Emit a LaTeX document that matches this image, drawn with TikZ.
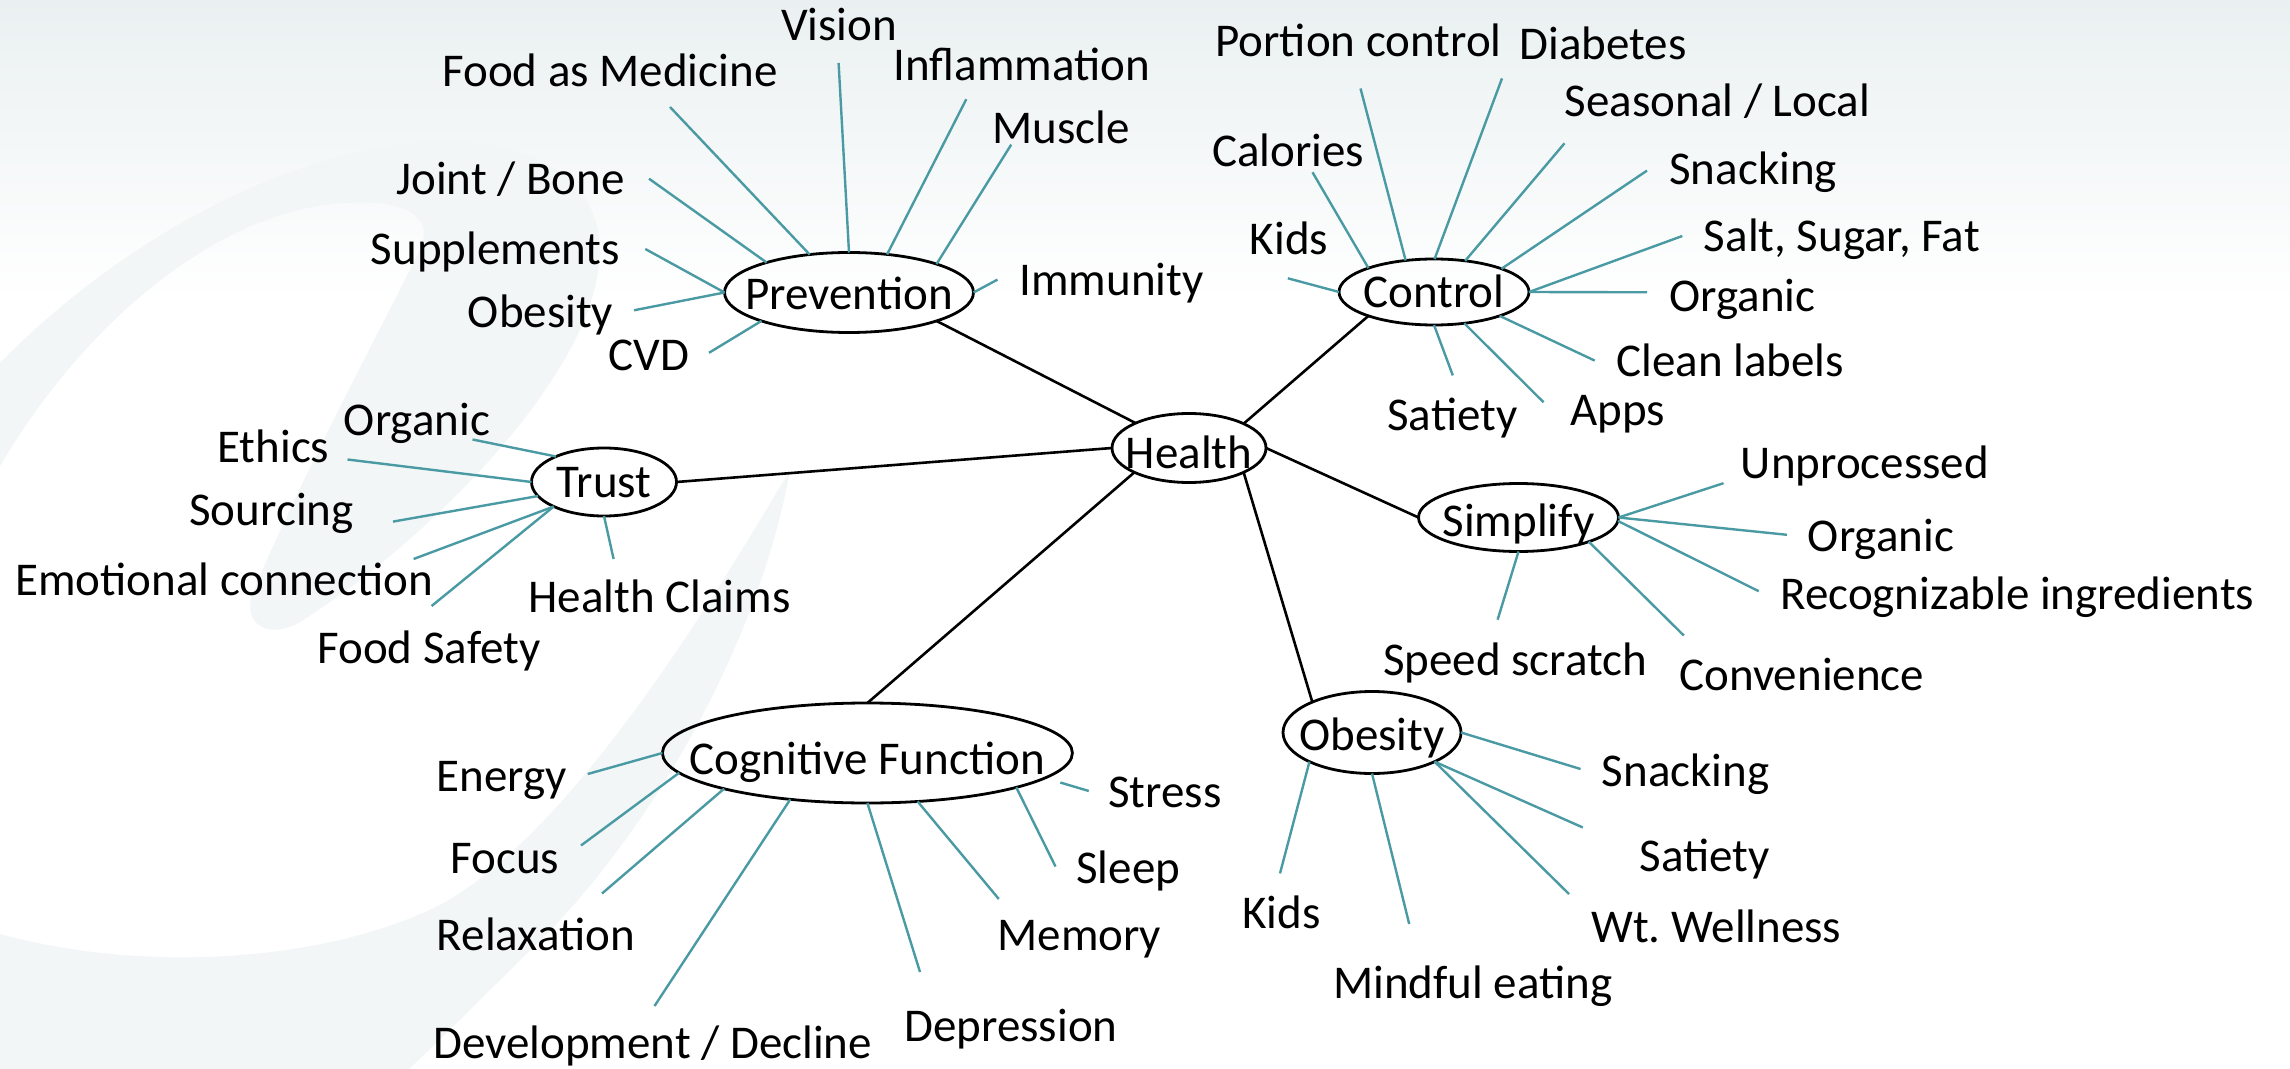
\documentclass[tikz,border=0pt]{standalone}
\usepackage{fontspec}
\setmainfont{Carlito}
\usetikzlibrary{shapes.geometric}
\definecolor{tealline}{RGB}{74,154,164}
\definecolor{ghost}{RGB}{242,246,247}
\definecolor{topg}{RGB}{234,240,241}
\newcommand\hubtext[2][9pt]{\smash{\makebox[0pt]{\raisebox{-#1}{#2}}}}
\frenchspacing
\begin{document}
\begin{tikzpicture}[x=0.5pt,y=-0.5pt,
  hub/.style={ellipse,draw=black,line width=1.4pt,inner sep=0pt,outer sep=0pt,font=\fontsize{23.5}{28}\selectfont},
  lbl/.style={anchor=base west,inner sep=0pt,font=\fontsize{23.5}{28}\selectfont},
  leaf/.style={draw=tealline,line width=1.2pt},
  trunk/.style={draw=black,line width=1.3pt}]
\useasboundingbox (0,0) rectangle (2290,1069);
% background
\fill[white] (0,0) rectangle (2290,1069);
\shade[top color=topg, bottom color=white] (0,0) rectangle (2290,300);
\fill[ghost] (0,363) .. controls (120,240) and (300,140) .. (450,142)
  .. controls (560,144) and (610,200) .. (598,270)
  .. controls (585,380) and (430,540) .. (300,622)
  .. controls (265,642) and (240,620) .. (254,590)
  .. controls (300,480) and (380,330) .. (420,250)
  .. controls (440,205) and (380,195) .. (312,207)
  .. controls (200,228) and (80,330) .. (0,466) -- cycle;
\fill[ghost] (0,934) .. controls (150,975) and (330,960) .. (440,905)
  .. controls (560,840) and (690,640) .. (790,470)
  .. controls (760,640) and (650,840) .. (520,960)
  .. controls (480,1000) and (440,1040) .. (409,1069) -- (0,1069) -- cycle;

% hubs
\node[hub,minimum width=77pt,minimum height=34.5pt] (health) at (1189,448) {\hubtext[10pt]{Health}};
\node[hub,minimum width=124.5pt,minimum height=40pt] (prev) at (849,292.5) {\hubtext[8.75pt]{Prevention}};
\node[hub,minimum width=72.5pt,minimum height=34pt] (trust) at (604,482) {\hubtext[7.5pt]{Trust}};
\node[hub,minimum width=95pt,minimum height=33pt] (ctrl) at (1434,292) {\hubtext[8pt]{Control}};
\node[hub,minimum width=100pt,minimum height=34pt] (simp) at (1518.5,517.5) {\hubtext[9.25pt]{Simplify}};
\node[hub,minimum width=89pt,minimum height=41pt] (obes) at (1372,732.5) {\hubtext[8.75pt]{Obesity}};
\node[hub,minimum width=205pt,minimum height=50pt] (cog) at (867.4,753) {\hubtext[10.5pt]{Cognitive Function}};

% trunks
\draw[trunk] (prev.-18.7) -- (health.155.3);
\draw[trunk] (trust.east) -- (health.west);
\draw[trunk] (ctrl.200.5) -- (health.24.3);
\draw[trunk] (health.east) -- (simp.west);
\draw[trunk] (health.-24.4) -- (obes.153.5);
\draw[trunk] (health.204.4) -- (cog.north);

% Prevention leaves
\coordinate (p1) at (670,107);     \draw[leaf] (prev.136.3) -- (p1);
\node[lbl] (p1t) at (442,87) {Food as Medicine};
\coordinate (p2) at (838.6,63);    \draw[leaf] (prev.90) -- (p2);
\node[lbl] (p2t) at (780.6,41) {Vision};
\coordinate (p3) at (966.3,99.2);  \draw[leaf] (prev.45.4) -- (p3);
\node[lbl] (p3t) at (893,81) {Inflammation};
\coordinate (p4) at (1011.2,144.6); \draw[leaf] (prev.18) -- (p4);
\node[lbl] (p4t) at (992,143.5) {Muscle};
\coordinate (p5) at (997.5,279.6); \draw[leaf] (prev.0) -- (p5);
\node[lbl] (p5t) at (1019,296) {Immunity};
\coordinate (p6) at (649,178.7);   \draw[leaf] (prev.160.7) -- (p6);
\node[lbl] (p6t) at (396,195) {Joint / Bone};
\coordinate (p7) at (645.3,249);   \draw[leaf] (prev.180) -- (p7);
\node[lbl] (p7t) at (370.5,265) {Supplements};
\coordinate (p8) at (634,310.3);   \draw[leaf] (prev.180) -- (p8);
\node[lbl] (p8t) at (467.5,328) {Obesity};
\coordinate (p9) at (709,352.8);   \draw[leaf] (prev.198.4) -- (p9);
\node[lbl] (p9t) at (608,371) {CVD};

% Trust leaves
\coordinate (t1) at (472.5,439.5); \draw[leaf] (trust.152.9) -- (t1);
\node[lbl] (t1t) at (343.5,436) {Organic};
\coordinate (t2) at (347.5,459.5); \draw[leaf] (trust.180) -- (t2);
\node[lbl] (t2t) at (217,462) {Ethics};
\coordinate (t3) at (393,521.6);   \draw[leaf] (trust.192.6) -- (t3);
\node[lbl] (t3t) at (189,525) {Sourcing};
\coordinate (t4) at (413.6,559);   \draw[leaf] (trust.206.6) -- (t4);
\node[lbl] (t4t) at (15,595) {Emotional connection};
\coordinate (t5) at (431.6,606);   \draw[leaf] (trust.206.6) -- (t5);
\node[lbl] (t5t) at (317,663) {Food Safety};
\coordinate (t6) at (613.6,559);   \draw[leaf] (trust.270) -- (t6);
\node[lbl] (t6t) at (528,612) {Health Claims};

% Control leaves
\coordinate (c1) at (1360.5,88.5);  \draw[leaf] (ctrl.132.9) -- (c1);
\node[lbl] (c1t) at (1215,57) {Portion control};
\coordinate (c2) at (1502,78.4);    \draw[leaf] (ctrl.89) -- (c2);
\node[lbl] (c2t) at (1519,60) {Diabetes};
\coordinate (c3) at (1564.5,143.3); \draw[leaf] (ctrl.45) -- (c3);
\node[lbl] (c3t) at (1564.5,117) {Seasonal / Local};
\coordinate (c4) at (1312.5,172.3); \draw[leaf] (ctrl.160.1) -- (c4);
\node[lbl] (c4t) at (1211.6,167) {Calories};
\coordinate (c5) at (1647,170.6);   \draw[leaf] (ctrl.19.4) -- (c5);
\node[lbl] (c5t) at (1669,185) {Snacking};
\coordinate (c6) at (1287.8,278.3); \draw[leaf] (ctrl.180) -- (c6);
\node[lbl] (c6t) at (1249.5,255) {Kids};
\coordinate (c7) at (1682.3,236);   \draw[leaf] (ctrl.0) -- (c7);
\node[lbl] (c7t) at (1703.5,252) {Salt, Sugar, Fat};
\coordinate (c8) at (1647,292.3);   \draw[leaf] (ctrl.0) -- (c8);
\node[lbl] (c8t) at (1669,312) {Organic};
\coordinate (c9) at (1594.7,360.6); \draw[leaf] (ctrl.-20) -- (c9);
\node[lbl] (c9t) at (1616,377) {Clean labels};
\coordinate (c10) at (1543.6,402.3); \draw[leaf] (ctrl.-46.8) -- (c10);
\node[lbl] (c10t) at (1570,425) {Apps};
\coordinate (c11) at (1452.8,375.4); \draw[leaf] (ctrl.-90) -- (c11);
\node[lbl] (c11t) at (1387,430) {Satiety};

% Simplify leaves
\coordinate (s1) at (1723.5,483.2); \draw[leaf] (simp.0) -- (s1);
\node[lbl] (s1t) at (1740.5,478) {Unprocessed};
\coordinate (s2) at (1787,534.8);   \draw[leaf] (simp.0) -- (s2);
\node[lbl] (s2t) at (1807.5,551) {Organic};
\coordinate (s3) at (1758.7,591.2); \draw[leaf] (simp.-2) -- (s3);
\node[lbl] (s3t) at (1780,609) {Recognizable ingredients};
\coordinate (s4) at (1683.8,635.5); \draw[leaf] (simp.-19.7) -- (s4);
\node[lbl] (s4t) at (1679,690) {Convenience};
\coordinate (s5) at (1497.6,619.7); \draw[leaf] (simp.-90) -- (s5);
\node[lbl] (s5t) at (1382.6,675) {Speed scratch};

% Obesity leaves
\coordinate (o1) at (1580.5,769);   \draw[leaf] (obes.0) -- (o1);
\node[lbl] (o1t) at (1601.5,786) {Snacking};
\coordinate (o2) at (1582.8,827.5); \draw[leaf] (obes.-25.5) -- (o2);
\node[lbl] (o2t) at (1639.5,871) {Satiety};
\coordinate (o3) at (1569,894);     \draw[leaf] (obes.-25.5) -- (o3);
\node[lbl] (o3t) at (1591,942) {Wt. Wellness};
\coordinate (o4) at (1409.2,924);   \draw[leaf] (obes.-90) -- (o4);
\node[lbl] (o4t) at (1332.7,998) {Mindful eating};
\coordinate (o5) at (1280,873.4);   \draw[leaf] (obes.205.7) -- (o5);
\node[lbl] (o5t) at (1242,928) {Kids};

% Cognitive leaves
\coordinate (g1) at (587.7,774);    \draw[leaf] (cog.180) -- (g1);
\node[lbl] (g1t) at (436.5,791) {Energy};
\coordinate (g2) at (581,845.5);    \draw[leaf] (cog.186.2) -- (g2);
\node[lbl] (g2t) at (450,873) {Focus};
\coordinate (g3) at (602,893.5);    \draw[leaf] (cog.194) -- (g3);
\node[lbl] (g3t) at (436.5,950) {Relaxation};
\coordinate (g4) at (654.5,1006);   \draw[leaf] (cog.211.3) -- (g4);
\node[lbl] (g4t) at (433,1058.5) {Development / Decline};
\coordinate (g5) at (920,972);      \draw[leaf] (cog.270) -- (g5);
\node[lbl] (g5t) at (904,1041) {Depression};
\coordinate (g6) at (998.8,899);    \draw[leaf] (cog.-44.4) -- (g6);
\node[lbl] (g6t) at (997,950) {Memory};
\coordinate (g7) at (1055.5,866.5); \draw[leaf] (cog.-13.75) -- (g7);
\node[lbl] (g7t) at (1076,883) {Sleep};
\coordinate (g8) at (1088.8,791);   \draw[leaf,shorten <=8pt] (cog.-8) -- (g8);
\node[lbl] (g8t) at (1108,807) {Stress};
\end{tikzpicture}
\end{document}
